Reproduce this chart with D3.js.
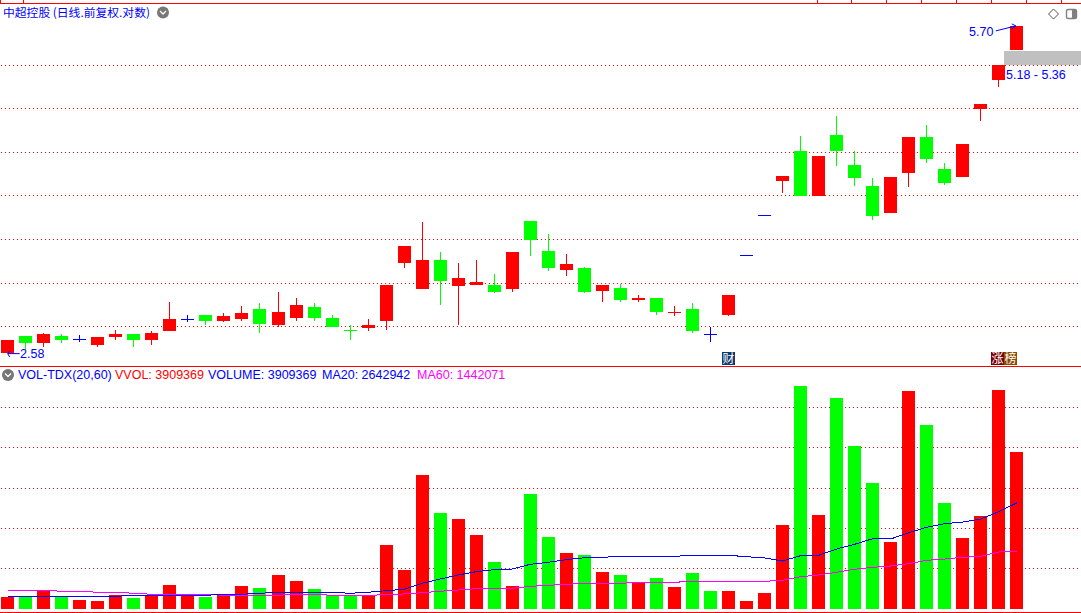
<!DOCTYPE html>
<html><head><meta charset="utf-8">
<style>html,body{margin:0;padding:0;background:#fff;overflow:hidden}svg{display:block}text{font-family:"Liberation Sans",sans-serif;font-size:12.5px}</style>
<script src="https://cdn.jsdelivr.net/npm/d3@7/dist/d3.min.js"></script>
</head><body><svg id="c" width="1081" height="613"></svg>
<script>
const opens=[2.58,2.689,2.645,2.689,2.67,2.631,2.683,2.702,2.664,2.721,2.803,2.831,2.789,2.803,2.874,2.761,2.81,2.888,2.81,2.728,2.741,2.789,3.206,3.015,3.23,3.036,3.043,3.043,3.015,3.556,3.307,3.159,3.167,3.0,3.022,2.937,2.951,2.845,2.874,2.702,2.831,3.276,3.608,3.917,4.207,3.774,4.378,4.071,3.869,3.626,3.994,4.357,4.033,3.956,4.657,5.001,5.375];
const highs=[2.664,2.689,2.711,2.702,2.696,2.683,2.728,2.702,2.721,2.923,2.831,2.831,2.845,2.895,2.916,2.993,2.951,2.916,2.831,2.761,2.803,3.043,3.346,3.547,3.3,3.206,3.23,3.128,3.3,3.556,3.442,3.284,3.175,3.043,3.05,2.972,2.951,2.895,2.916,2.748,2.972,3.276,3.608,3.965,4.368,4.158,4.582,4.207,3.946,3.956,4.357,4.485,4.091,4.282,4.715,5.18,5.7];
const lows=[2.58,2.599,2.618,2.645,2.651,2.618,2.664,2.618,2.631,2.721,2.782,2.761,2.782,2.789,2.709,2.748,2.789,2.789,2.748,2.664,2.721,2.728,3.167,3.015,2.902,2.761,3.043,2.986,2.993,3.261,3.144,3.113,2.986,2.923,2.923,2.923,2.831,2.824,2.709,2.651,2.824,3.276,3.608,3.801,3.774,3.774,4.062,3.869,3.565,3.626,3.859,4.091,3.878,3.956,4.528,4.918,5.375];
const closes=[2.664,2.645,2.702,2.664,2.67,2.683,2.702,2.664,2.709,2.803,2.803,2.789,2.824,2.845,2.768,2.853,2.902,2.81,2.748,2.726,2.761,3.043,3.346,3.23,3.074,3.097,3.066,2.993,3.3,3.393,3.167,3.198,2.993,3.043,2.937,2.951,2.853,2.853,2.721,2.702,2.972,3.276,3.608,3.965,3.774,4.158,4.207,3.946,3.6,3.956,4.357,4.129,3.898,4.282,4.715,5.18,5.7];
const volumes=[298800,298800,473100,298800,224100,199200,348600,273900,348600,597600,348600,298800,348600,572700,522900,846600,697200,498000,348600,348600,348600,1593600,971100,3336600,2390400,2241000,1842600,1170300,572700,2863500,1792800,1394400,1344600,921300,846600,672300,771900,547800,896400,448200,448200,199200,398400,2091600,5552700,2340600,5253900,4058700,3137400,1668300,5428200,4581600,2639400,1767900,2315700,5453100,3909369];
const ma20=[316000,316000,316000,316000,316000,316000,316000,341000,341000,341000,341000,341000,366000,366000,391000,416000,416000,416000,416000,391000,416000,456000,491000,640000,747000,847000,929000,979000,996000,1113000,1163000,1228000,1277000,1287000,1312000,1312000,1312000,1312000,1337000,1337000,1337000,1302000,1270000,1195000,1327000,1337000,1494000,1611000,1750000,1743000,1900000,2034000,2124000,2166000,2241000,2423000,2642942];
const ma60=[466000,466000,466000,441000,441000,416000,416000,391000,366000,366000,366000,366000,341000,341000,341000,341000,366000,366000,341000,341000,341000,356000,374000,406000,441000,473000,505000,515000,515000,565000,590000,615000,640000,640000,640000,665000,665000,665000,690000,690000,690000,690000,690000,715000,804000,847000,914000,989000,1038000,1071000,1128000,1213000,1245000,1287000,1312000,1419000,1442071];
const priceGrid=[5.18,4.672,4.199,3.784,3.402,3.058,2.755];
const volumeGrid=[1000000,2000000,3000000,4000000,5000000];
const timeTicks=[-0.42,0.86,44.92,46.81,48.75,50.69,52.64,54.58,56.52,58.46];
const titleText="中超控股 (日线.前复权.对数)";
const legendParts=[["VOL-TDX(20,60)","#0000ff",18],["VVOL: 3909369","#ff0000",115],["VOLUME: 3909369","#0000ff",208],["MA20: 2642942","#0000ff",322],["MA60: 1442071","#ff00ff",417]];
const gapLow=5.18,gapHigh=5.36;

const RED="#ff0000",GREEN="#00ff00",BLUE="#0000ff";
const svg=d3.select("#c");
const x=d3.scaleLinear().domain([0,56]).range([7.7,1016.82]);
const y=d3.scaleLog().domain([2.58,5.7]).range([353.1,25.9]);
const v=d3.scaleLinear().domain([0,3909369]).range([609,452]);
const idx=d3.range(opens.length);

// frame
const frame=svg.append("g").attr("shape-rendering","crispEdges");
[3.5,366.5,612.5].forEach(r=>frame.append("line").attr("x1",0).attr("x2",1081).attr("y1",r).attr("y2",r).attr("stroke",RED));
timeTicks.forEach(t=>{const px=Math.round(x(t))+.5;frame.append("line").attr("x1",px).attr("x2",px).attr("y1",0).attr("y2",3).attr("stroke",RED)});

// gridlines
const grid=svg.append("g").attr("shape-rendering","crispEdges").attr("stroke",RED).attr("stroke-dasharray","1 3");
priceGrid.forEach(p=>{const r=Math.round(y(p))+.5;grid.append("line").attr("x1",1).attr("x2",1080).attr("y1",r).attr("y2",r)});
volumeGrid.forEach(p=>{const r=Math.round(v(p))-.5;grid.append("line").attr("x1",1).attr("x2",1080).attr("y1",r).attr("y2",r)});

// gap band
svg.append("rect").attr("x",1004).attr("width",77).attr("y",Math.round(y(gapHigh))).attr("height",Math.round(y(gapLow))-Math.round(y(gapHigh))).attr("fill","#c0c0c0");

// candles
const color=i=>closes[i]>opens[i]?RED:closes[i]<opens[i]?GREEN:BLUE;
const candles=svg.append("g").attr("shape-rendering","crispEdges");
idx.forEach(i=>{
  const left=Math.round(x(i)-6.5),c=color(i);
  const top=Math.round(y(Math.max(opens[i],closes[i]))),bot=Math.round(y(Math.min(opens[i],closes[i])));
  const hi=Math.round(y(highs[i])),lo=Math.round(y(lows[i]));
  if(lo>hi)candles.append("rect").attr("x",left+6).attr("width",1).attr("y",hi).attr("height",lo-hi).attr("fill",c);
  candles.append("rect").attr("x",left).attr("width",13).attr("y",top).attr("height",Math.max(1,bot-top)).attr("fill",c);
});

// volume
const volUp=i=>closes[i]>opens[i]||(closes[i]===opens[i]&&closes[i]>=closes[Math.max(0,i-1)]);
const vols=svg.append("g").attr("shape-rendering","crispEdges");
idx.forEach(i=>{
  const left=Math.round(x(i)-6.5),t=Math.round(v(volumes[i]));
  vols.append("rect").attr("x",left).attr("width",13).attr("y",t).attr("height",v(0)-t).attr("fill",volUp(i)?RED:GREEN);
});
const line=a=>d3.line().x((d,i)=>x(i)).y(d=>v(d))(a);
svg.append("path").attr("d",line(ma60)).attr("fill","none").attr("stroke","#ff00ff").attr("shape-rendering","crispEdges");
svg.append("path").attr("d",line(ma20)).attr("fill","none").attr("stroke",BLUE).attr("shape-rendering","crispEdges");

// texts
const T=(s,px,py,fill,extra)=>{const t=svg.append("text").attr("x",px).attr("y",py).attr("fill",fill).text(s);if(extra)t.style("font-family",extra.f).style("font-size",extra.s);return t};
T(titleText,3,17,BLUE,{f:'"Noto Sans CJK SC"',s:"11.8px"});
legendParts.forEach(d=>T(d[0],d[2],379,d[1]));
T("5.70",969,36,BLUE);
T("5.18 - 5.36",1006,79,BLUE);
T("2.58",20,358,BLUE);

// extreme arrows
const arrows=svg.append("g").attr("fill","none").attr("stroke",BLUE);
const hx=x(56),hy=y(5.7),lx=x(0),ly=y(2.58);
arrows.append("path").attr("d",`M${hx-21},${hy+5}L${hx-1},${hy}M${hx-5},${hy-2}L${hx-1},${hy}L${hx-5},${hy+3}`);
arrows.append("path").attr("d",`M${lx+12},${ly+.5}L${lx},${ly+.5}M${lx},${ly+.5}L${lx+2},${ly-2}M${lx},${ly+.5}L${lx+2},${ly+4}`);

// chevron buttons
[[163,12.5],[8,375]].forEach(([cx,cy])=>{
  svg.append("circle").attr("cx",cx).attr("cy",cy).attr("r",6).attr("fill","#777");
  svg.append("path").attr("d",`M${cx-3},${cy-1.5}L${cx},${cy+1.5}L${cx+3},${cy-1.5}`).attr("fill","none").attr("stroke","#fff").attr("stroke-width",1.3);
});

// diamond and panel icon
svg.append("path").attr("d","M1053.5,9L1058.5,14L1053.5,19L1048.5,14Z").attr("fill","#fff").attr("stroke","#555");
svg.append("rect").attr("x",1066.5).attr("y",9.5).attr("width",10).attr("height",9).attr("rx",1.5).attr("fill","#fff").attr("stroke","#808080").attr("stroke-width",1.4);
svg.append("rect").attr("x",1072).attr("y",10).attr("width",4).attr("height",8).attr("fill","#808080");

// badges
const badge=(ch,px,fill)=>{
  svg.append("rect").attr("x",px).attr("y",352).attr("width",13).attr("height",13).attr("fill",fill);
  svg.append("text").attr("x",px+6.5).attr("y",363).attr("text-anchor","middle").attr("fill","#fff").style("font-family",'"Noto Sans CJK SC"').style("font-size","12px").text(ch);
};
badge("财",722,"#0f3a6b");
badge("涨",991,"#7a0000");
badge("榜",1004,"#8a4b00");
</script></body></html>
